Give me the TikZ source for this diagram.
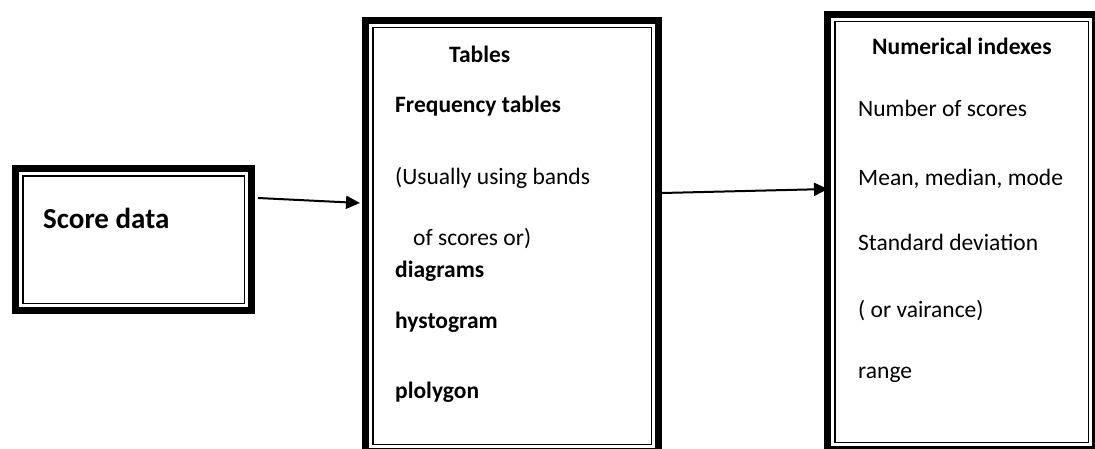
\documentclass[tikz,border=0pt]{standalone}
\usepackage{fontspec}
\setmainfont{Carlito}
\usetikzlibrary{arrows.meta}

\begin{document}
\begin{tikzpicture}[x=1pt,y=1pt]
\tikzset{
  framebox/.style={draw, line width=7pt, outer sep=0pt, inner sep=0pt, rectangle},
  innerline/.style={line width=1.5pt},
  body/.style={anchor=base west, inner sep=0pt, font=\fontsize{23.5}{28}\selectfont},
  bodybold/.style={anchor=base west, inner sep=0pt, font=\fontsize{23.5}{28}\selectfont\bfseries},
  link/.style={line width=2pt, -{Triangle[length=14pt,width=13pt]}}
}
\useasboundingbox (0,0) rectangle (1095,448);
\begin{scope}
\clip (0,0) rectangle (1095,448);

% framed boxes: thick outer band plus a thin inner rule
\node[framebox, minimum width=236pt, minimum height=142pt] (score) at (133.5,208.5) {};
\node[framebox, minimum width=293pt, minimum height=431pt] (tables) at (512,212) {};
\node[framebox, minimum width=268pt, minimum height=435pt] (indexes) at (961.5,216) {};
\foreach \b in {score,tables,indexes}
  \draw[innerline] ([shift={(7.25,7.25)}]\b.south west) rectangle ([shift={(-7.25,-7.25)}]\b.north east);

% texts
\node[anchor=base west, inner sep=0pt, font=\fontsize{29}{34}\selectfont\bfseries] (t0) at (43,220) {Score data};

\node[bodybold] (t1) at (449,385) {Tables};
\node[bodybold] (t2) at (395,335) {Frequency tables};
\node[body]     (t3) at (395,264) {(Usually using bands};
\node[body]     (t4) at (413,203) {of scores or)};
\node[bodybold] (t5) at (395,171) {diagrams};
\node[bodybold] (t6) at (395,120) {hystogram};
\node[bodybold] (t7) at (395,50)  {plolygon};

\node[bodybold] (n1) at (872,393) {Numerical indexes};
\node[body]     (n2) at (858,331) {Number of scores};
\node[body]     (n3) at (858,263) {Mean, median, mode};
\node[body]     (n4) at (858,198) {Standard deviation};
\node[body]     (n5) at (858,131) {( or vairance)};
\node[body]     (n6) at (858,70)  {range};

% connectors
\draw[link] ([shift={(6.5,41.5)}]score.east) -- ([shift={(-5.5,33)}]tables.west);
\draw[link] ([shift={(3.5,43)}]tables.east) -- ([shift={(0.5,43)}]indexes.west);
\end{scope}
\end{tikzpicture}
\end{document}
